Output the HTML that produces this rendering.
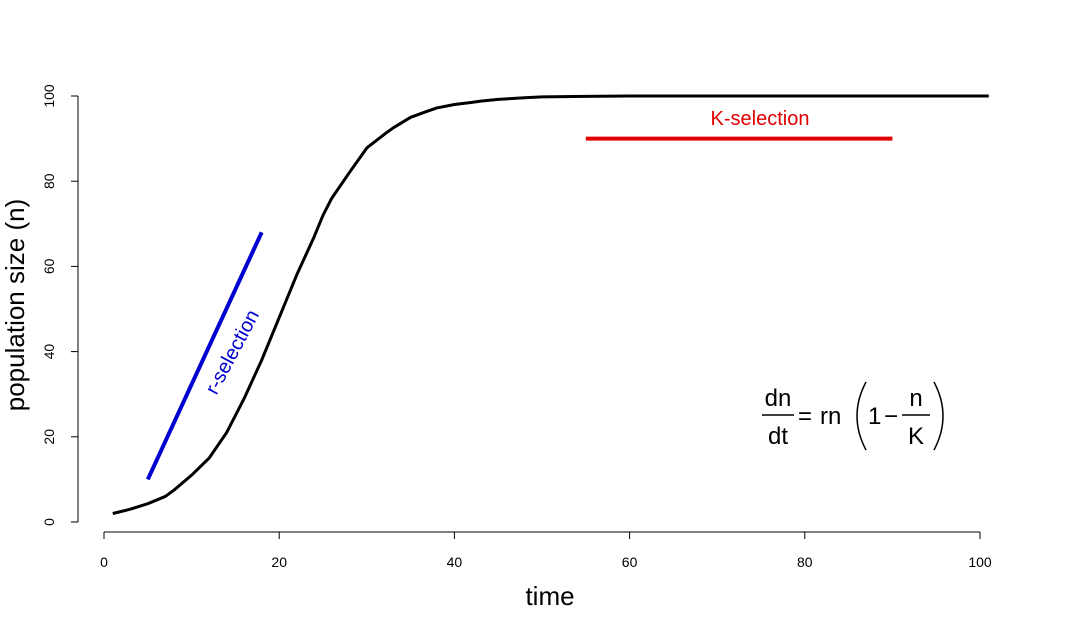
<!DOCTYPE html>
<html><head><meta charset="utf-8"><style>
body{margin:0;background:#fff}
svg text{font-family:"Liberation Sans",Arial,sans-serif}
</style></head><body>
<svg width="1065" height="630" viewBox="0 0 1065 630">
<g id="axes"></g><g id="marks"></g>
<text x="550" y="605" font-size="26" text-anchor="middle">time</text>
<text transform="translate(24,305) rotate(-90)" font-size="26" text-anchor="middle">population size (n)</text>
<text x="760" y="125" font-size="20" fill="#e00000" text-anchor="middle">K-selection</text>
<text transform="translate(238,355) rotate(-62)" font-size="20" fill="#0000d0" text-anchor="middle">r-selection</text>
<g font-size="24">
<text x="778" y="406" text-anchor="middle">dn</text>
<line x1="762" y1="415" x2="794" y2="415" stroke="#000" stroke-width="1.5"/>
<text x="778" y="444" text-anchor="middle">dt</text>
<text x="798" y="424">=</text>
<text x="820" y="424">rn</text>
<path d="M866,382 Q848,416 866,450" fill="none" stroke="#000" stroke-width="1.5"/>
<text x="868" y="424">1</text>
<text x="884" y="424">−</text>
<text x="916" y="406" text-anchor="middle">n</text>
<line x1="902" y1="415" x2="930" y2="415" stroke="#000" stroke-width="1.5"/>
<text x="916" y="444" text-anchor="middle">K</text>
<path d="M934,382 Q952,416 934,450" fill="none" stroke="#000" stroke-width="1.5"/>
</g>
</svg>
<script>
const xTicks=[0,20,40,60,80,100];
const yTicks=[0,20,40,60,80,100];
const curveT=[1,3,5,7,8,10,12,14,15,16,18,20,22,24,25,26,28,30,32,33,35,37,38,40,42,43,45,48,50,55,60,70,80,90,101];
const curveN=[2,3,4.3,6,7.5,11,15,21,25,29,38,48,58,67,72,76,82,87.8,91,92.5,95,96.5,97.2,98,98.5,98.8,99.2,99.6,99.8,99.9,100,100,100,100,100];
const rSelT=[5,18];const rSelN=[10,68];
const kSelT=[55,90];const kSelN=[90,90];
const X=v=>104+v*8.76, Y=v=>522-v*4.26;
const NS="http://www.w3.org/2000/svg";
const axes=document.getElementById('axes'),marks=document.getElementById('marks');
function mk(tag,attrs,parent){const e=document.createElementNS(NS,tag);for(const k in attrs)e.setAttribute(k,attrs[k]);parent.appendChild(e);return e;}
const xa=mk('line',{x1:X(0),x2:X(100),y1:532,y2:532,stroke:'#000'},axes);


const ya=mk('line',{x1:78,x2:78,y1:Y(0),y2:Y(100),stroke:'#000'},axes);


xTicks.forEach(t=>{
 mk('line',{x1:X(t),x2:X(t),y1:532,y2:539,stroke:'#000'},axes);
 const tx=mk('text',{x:X(t),y:567,'font-size':14,'text-anchor':'middle'},axes);tx.textContent=t;
 
 
});
yTicks.forEach(t=>{
 mk('line',{x1:71,x2:78,y1:Y(t),y2:Y(t),stroke:'#000'},axes);
 const tx=mk('text',{transform:`translate(54,${Y(t)}) rotate(-90)`,'font-size':14,'text-anchor':'middle'},axes);tx.textContent=t;
 
 
});
function line(ts,ns,color,w,name){
 const p=mk('polyline',{points:ts.map((t,i)=>X(t)+','+Y(ns[i])).join(' '),fill:'none',stroke:color,'stroke-width':w,'stroke-linejoin':'round'},marks);
 
 
}
line(curveT,curveN,'#000',3,'population-curve');
line(rSelT,rSelN,'#0000d0',4,'r-selection-line');
line(kSelT,kSelN,'#e00000',4,'k-selection-line');
</script>
</body></html>
